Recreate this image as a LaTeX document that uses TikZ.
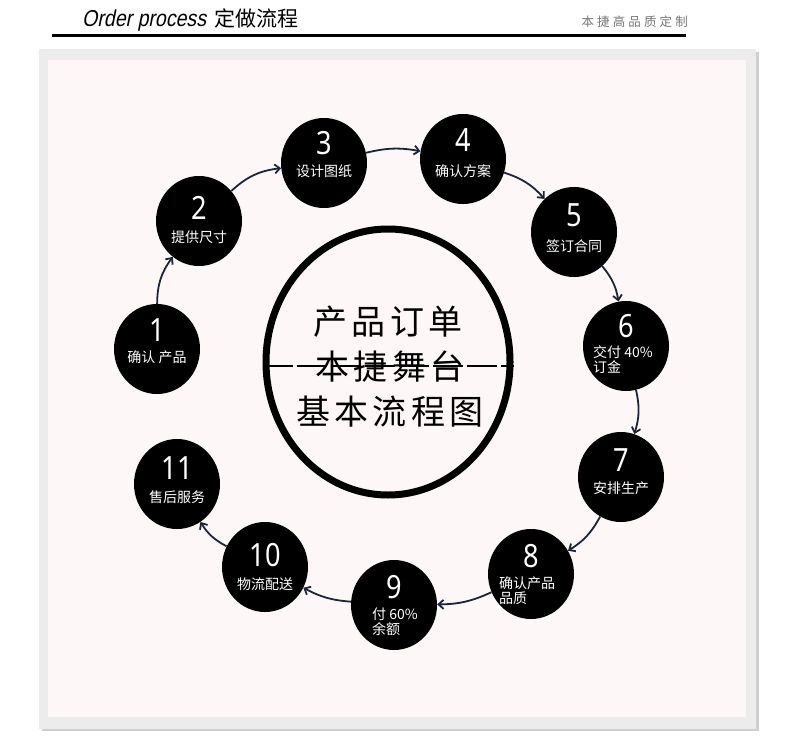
\documentclass[tikz,border=0pt]{standalone}
\usepackage{fontspec}
\usetikzlibrary{shapes.geometric,arrows.meta}
\newfontfamily\cjk{Noto Sans CJK SC}
\newfontfamily\cjkwide[LetterSpace=12]{Noto Sans CJK SC}
\newfontfamily\cjkgray[LetterSpace=25]{Noto Sans CJK SC}
\newfontfamily\narrowit[FakeStretch=0.85,FakeSlant=0.2]{Liberation Sans}
\newfontfamily\digitfont[FakeStretch=0.85]{Noto Sans}
\definecolor{panelout}{HTML}{ECECEC}
\definecolor{panelin}{HTML}{FDF8F7}
\definecolor{shadowc}{HTML}{CFCFCF}
\definecolor{arrowc}{HTML}{1C2438}
\definecolor{graytext}{HTML}{777777}
\tikzset{
  stepdot/.style={ellipse, fill=black, inner sep=0pt, minimum width=86pt, minimum height=90pt},
  digit/.style={text=white, font=\digitfont\fontsize{32}{32}\selectfont, inner sep=0pt},
  lbl/.style={text=white, font=\cjk\fontsize{14}{15}\selectfont, inner sep=0pt, align=left},
  arr/.style={draw=arrowc, line width=1.8pt, -{Straight Barb[length=5pt,width=9pt]}},
  bigtext/.style={font=\cjkwide\fontsize{34}{34}\selectfont, inner sep=0pt}
}
\begin{document}
\begin{tikzpicture}[x=1pt,y=-1pt]
\useasboundingbox (0,0) rectangle (802,738);
\fill[white] (0,0) rectangle (802,738);
% header
\node[anchor=west, inner sep=0pt] (title) at (82,20) {\narrowit\fontsize{23}{23}\selectfont Order process\hspace{8pt}\cjk\fontsize{21}{21}\selectfont 定做流程};
\node[anchor=east, inner sep=0pt, text=graytext] (brand) at (688,22) {\cjkgray\fontsize{12.5}{12.5}\selectfont 本捷高品质定制};
\draw[line width=3pt] (52,36) coordinate (hl) -- (686,36) coordinate (hr);
% panel
\fill[shadowc] (42,52) rectangle (759,731);
\fill[panelout] (39,49) rectangle (756,729);
\fill[panelin] (48,60) rectangle (746,717);
% central circle
\node[ellipse, draw=black, line width=7pt, fill=panelin, minimum width=244pt, minimum height=266pt, inner sep=0pt] (core) at (388,362) {};
\node[bigtext] (t1) at (388,322) {产品订单};
\node[bigtext] (t2) at (390,367) {本捷舞台};
\node[bigtext] (t3) at (390,412) {基本流程图};
\draw[line width=2.5pt, dash pattern=on 30pt off 4pt] (core.west |- 0,366) -- (core.east |- 0,366);
% step circles
\node[stepdot] (n1) at (157,349) {};
\node[stepdot] (n2) at (199,221) {};
\node[stepdot] (n3) at (324,163) {};
\node[stepdot] (n4) at (463,159) {};
\node[stepdot] (n5) at (574,232) {};
\node[stepdot] (n6) at (626,346) {};
\node[stepdot] (n7) at (621,477) {};
\node[stepdot] (n8) at (531,574) {};
\node[stepdot] (n9) at (394,605) {};
\node[stepdot] (n10) at (265,567) {};
\node[stepdot] (n11) at (177,484) {};
% digits
\node[digit] (d1) at (157,330) {1};
\node[digit] (d2) at (199,208) {2};
\node[digit] (d3) at (324,143) {3};
\node[digit] (d4) at (463,140) {4};
\node[digit] (d5) at (574,215) {5};
\node[digit] (d6) at (626,326) {6};
\node[digit] (d7) at (621,460) {7};
\node[digit] (d8) at (531,556) {8};
\node[digit] (d9) at (394,587) {9};
\node[digit] (d10) at (265,555) {10};
\node[digit] (d11) at (177,468) {11};
% labels
\node[lbl] (l1) at (157,357) {确认 产品};
\node[lbl] (l2) at (199,237) {提供尺寸};
\node[lbl] (l3) at (324,171) {设计图纸};
\node[lbl] (l4) at (463,171) {确认方案};
\node[lbl] (l5) at (574,246) {签订合同};
\node[lbl, anchor=north west] (l6) at (593,345) {交付 40\%\\订金};
\node[lbl] (l7) at (621,488) {安排生产};
\node[lbl, anchor=north west] (l8) at (499,576) {确认产品\\品质};
\node[lbl, anchor=north west] (l9) at (372,608) {付 60\%\\余额};
\node[lbl] (l10) at (265,584) {物流配送};
\node[lbl] (l11) at (177,497) {售后服务};
% arrows
\draw[arr] (n1) to[bend left=18] (n2);
\draw[arr] (n2) to[bend left=18] (n3);
\draw[arr] (n3) to[bend left=12] (n4);
\draw[arr] (n4) to[bend left=15] (n5);
\draw[arr] (n5) to[bend left=15] (n6);
\draw[arr] (n6) to[bend left=15] (n7);
\draw[arr] (n7) to[bend left=15] (n8);
\draw[arr] (n8) to[bend left=12] (n9);
\draw[arr] (n9) to[bend left=12] (n10);
\draw[arr] (n10) to[bend left=15] (n11);
\end{tikzpicture}
\end{document}
